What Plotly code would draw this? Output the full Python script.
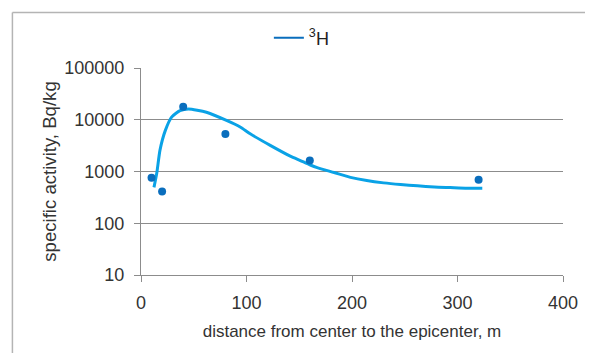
import plotly.graph_objects as go

# measured data points
dist_m = [10, 20, 40, 80, 160, 320]
activity = [760, 410, 17800, 5300, 1640, 690]

# trend curve
trend_x = [12.3, 15, 18, 23, 29, 37, 45, 62, 81, 94, 103.5, 122.5, 141.5, 151,
           160.5, 167, 183, 198.5, 214, 230, 246, 262, 278, 293, 309, 323.5]
trend_y = [494, 946, 2590, 6160, 11240, 14960, 16100, 13960, 9700, 7250, 5350,
           3200, 1980, 1630, 1335, 1190, 957, 771, 668, 603, 561, 530, 502, 488,
           473, 473]

x_ticks = [0, 100, 200, 300, 400]
y_ticks = [10, 100, 1000, 10000, 100000]
y_tick_text = ["10", "100", "1000", "10000", "100000"]

FONT = "Liberation Sans, Arial, sans-serif"
GRID = "#8c8c8c"

fig = go.Figure()
fig.add_trace(go.Scatter(x=trend_x, y=trend_y, mode="lines",
                         line=dict(color="#0AA2E6", width=3, shape="spline", smoothing=0.6),
                         showlegend=False, hoverinfo="skip"))
fig.add_trace(go.Scatter(x=dist_m, y=activity, mode="markers",
                         marker=dict(color="#0A6EBD", size=8),
                         showlegend=False))
fig.add_trace(go.Scatter(x=[None], y=[None], mode="lines",
                         line=dict(color="#0A6EBD", width=2),
                         name="<sup>3</sup>H", showlegend=True))

fig.update_layout(
    width=585, height=345,
    margin=dict(l=133, r=30, t=54, b=78),
    paper_bgcolor="white", plot_bgcolor="white",
    font=dict(family=FONT, color="#333333"),
    legend=dict(orientation="h", x=0.303, y=1.145, xanchor="left", yanchor="middle",
                font=dict(size=18, color="#222222"), bgcolor="rgba(0,0,0,0)"),
    xaxis=dict(range=[0, 400], tickvals=x_ticks, showgrid=False,
               showline=True, linecolor=GRID, linewidth=1,
               ticks="outside", ticklen=6, tickcolor=GRID, zeroline=False,
               tickfont=dict(size=18, color="#333333"), ticklabelstandoff=5,
               title=dict(text="distance from center to the epicenter, m",
                          font=dict(size=17, color="#333333"), standoff=13)),
    yaxis=dict(type="log", range=[1, 5], tickvals=y_ticks, ticktext=y_tick_text,
               showgrid=True, gridcolor=GRID, gridwidth=1,
               showline=True, linecolor=GRID, linewidth=1,
               ticks="outside", ticklen=6, tickcolor=GRID, zeroline=False,
               tickfont=dict(size=18, color="#333333"), ticklabelstandoff=6,
               title=dict(text="specific activity, Bq/kg",
                          font=dict(size=18.6, color="#333333"), standoff=2)),
    shapes=[dict(type="line", xref="paper", yref="paper",
                 x0=-0.3047, x1=-0.3047, y0=-1, y1=1.2676,
                 line=dict(color="#b4b4b4", width=1.5)),
            dict(type="line", xref="paper", yref="paper",
                 x0=-0.3047, x1=2, y0=1.2676, y1=1.2676,
                 line=dict(color="#b4b4b4", width=1.5))],
)

fig.write_html("out.html")
